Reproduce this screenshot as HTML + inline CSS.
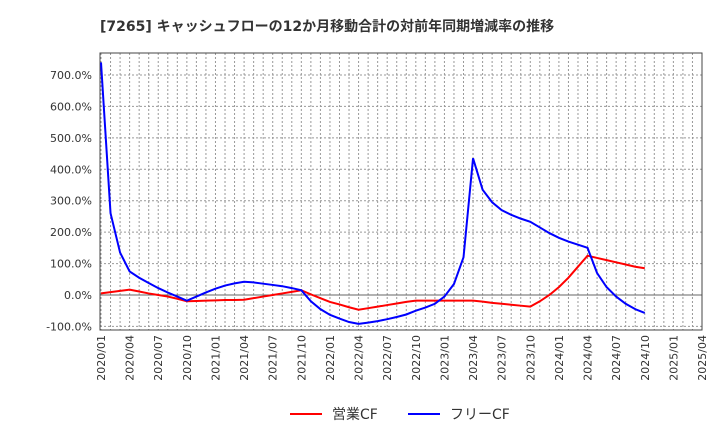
<!DOCTYPE html>
<html><head><meta charset="utf-8"><style>
body{margin:0;background:#fff;font-family:"DejaVu Sans","Noto Sans CJK JP",sans-serif}
svg text{font-family:"DejaVu Sans","Noto Sans CJK JP",sans-serif}
</style></head><body>
<svg id="c" width="720" height="440">
<text x="100" y="31" font-size="14" font-weight="bold" fill="#333">[7265]  キャッシュフローの12か月移動合計の対前年同期増減率の推移</text>
</svg>
<script>
const yTicks=[-100,0,100,200,300,400,500,600,700];
const xTickLabels=["2020/01","2020/04","2020/07","2020/10","2021/01","2021/04","2021/07","2021/10","2022/01","2022/04","2022/07","2022/10","2023/01","2023/04","2023/07","2023/10","2024/01","2024/04","2024/07","2024/10","2025/01","2025/04"];
const opCF=[5,9,13,17,11,5,0,-5,-12,-20,-19,-18,-17,-16,-16,-15,-10,-5,0,5,10,15,2,-10,-22,-30,-39,-47,-42,-37,-32,-27,-22,-18,-18,-18,-18,-18,-18,-18,-21,-25,-28,-31,-34,-37,-20,0,25,55,90,125,118,111,104,97,90,85];
const freeCF=[740,260,135,75,55,38,22,8,-5,-18,-5,8,20,30,37,42,40,36,32,28,22,15,-20,-45,-63,-75,-86,-92,-88,-83,-77,-70,-62,-50,-40,-28,-5,35,120,435,335,295,270,255,243,233,215,197,182,170,160,150,70,25,-5,-28,-45,-57];
const svg=document.getElementById('c');const NS='http://www.w3.org/2000/svg';
const L=100,R=702,T=53,B=330;
const x=i=>L+1+i*(R-L-1)/63;
const y=v=>295-v*0.3143;
function mk(t,a,p){const e=document.createElementNS(NS,t);for(const k in a)e.setAttribute(k,a[k]);(p||svg).appendChild(e);return e;}
for(let m=0;m<=63;m++){const g=mk('line',{x1:x(m),x2:x(m),y1:T,y2:B,stroke:'#999','stroke-dasharray':'2,2','stroke-width':1});

}
yTicks.forEach(v=>{const g=mk('line',{x1:L,x2:R,y1:y(v),y2:y(v),stroke:v===0?'#666':'#999','stroke-dasharray':v===0?'':'2,2','stroke-width':1});


const t=mk('text',{x:92,y:y(v)+4,'font-size':11,'text-anchor':'end',fill:'#333'});t.textContent=v.toFixed(1)+'%';

});
xTickLabels.forEach((s,i)=>{const xx=x(i*3);const t=mk('text',{transform:`translate(${xx+4},335) rotate(-90)`,'font-size':11,'text-anchor':'end',fill:'#333'});t.textContent=s;

});
const f=mk('rect',{x:L,y:T,width:R-L,height:B-T,fill:'none',stroke:'#444'});


function line(d,c,n){const p=mk('polyline',{points:d.map((v,i)=>x(i)+','+y(v)).join(' '),fill:'none',stroke:c,'stroke-width':2});

}
line(opCF,'#f00','series-operating-cf');
line(freeCF,'#00f','series-free-cf');
[['#f00','営業CF',290,'legend-operating-cf'],['#00f','フリーCF',408,'legend-free-cf']].forEach(a=>{const g=mk('g',{});


mk('line',{x1:a[2],x2:a[2]+32,y1:414,y2:414,stroke:a[0],'stroke-width':2},g);
const t=mk('text',{x:a[2]+42,y:419,'font-size':14,fill:'#333'},g);t.textContent=a[1];});
</script>
</body></html>
